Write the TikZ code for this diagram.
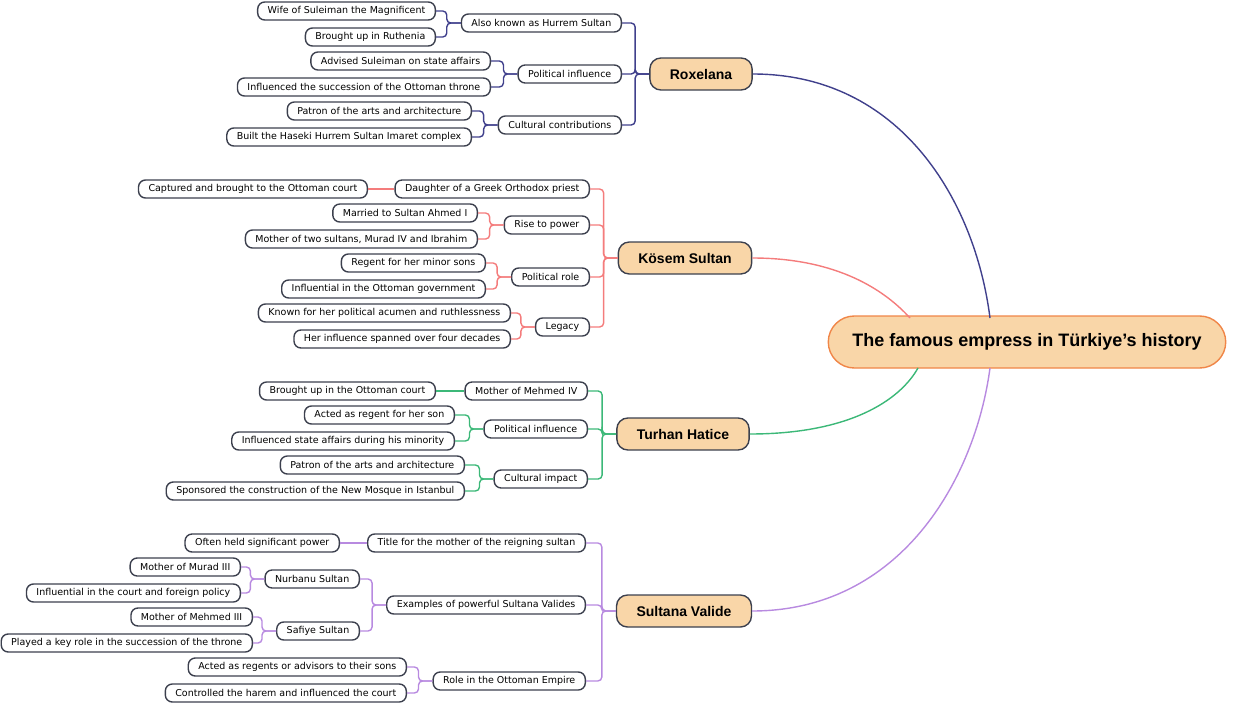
\documentclass[tikz,border=0pt]{standalone}
\usepackage{fontspec}
\setmainfont{Liberation Sans}
\newfontfamily\leaffont{DejaVu Sans}
\usepackage{tikz}
\usetikzlibrary{calc,positioning}
\definecolor{edgegray}{RGB}{60,64,78}
\definecolor{peach}{RGB}{249,214,168}
\definecolor{rootorange}{RGB}{240,134,72}
\definecolor{roxblue}{RGB}{64,64,140}
\definecolor{kosred}{RGB}{244,124,124}
\definecolor{turgreen}{RGB}{60,184,120}
\definecolor{valpurple}{RGB}{184,138,224}
\tikzset{
  leaf/.style={draw=edgegray,line width=1.4pt,fill=white,rounded corners=7pt,
    minimum height=18pt,inner xsep=10pt,inner ysep=0pt,font=\leaffont\fontsize{9.5}{10}\selectfont,anchor=east},
  topic/.style={draw=edgegray,line width=1.4pt,fill=peach,rounded corners=11pt,
    minimum height=32pt,inner xsep=20pt,font=\fontsize{14}{15}\bfseries\selectfont},
  root/.style={draw=rootorange,line width=1.4pt,fill=peach,rounded corners=26pt,
    minimum height=52pt,inner xsep=24pt,font=\fontsize{18}{19}\bfseries\selectfont},
  elbow/.style={line width=1.4pt,rounded corners=4pt},
  branch/.style={line width=1.4pt}
}
\newcommand{\elb}[3]{\draw[elbow,#1] (#2.west) -- ++(-14,0) |- (#3.east);}
\begin{document}
\begin{tikzpicture}[x=1pt,y=-1pt]
\useasboundingbox (0,0) rectangle (1240,704);
% centre
\node[root] (root) at (1027,342) {The famous empress in Türkiye's history};
% Roxelana
\node[topic] (rox) at (701,74) {Roxelana};
\node[leaf] (rox1) at (622,23) {Also known as Hurrem Sultan};
\node[leaf] (rox11) at (436,11) {Wife of Suleiman the Magnificent};
\node[leaf] (rox12) at (436,37) {Brought up in Ruthenia};
\node[leaf] (rox2) at (622,74) {Political influence};
\node[leaf] (rox21) at (491,61) {Advised Suleiman on state affairs};
\node[leaf] (rox22) at (491,87) {Influenced the succession of the Ottoman throne};
\node[leaf] (rox3) at (622,125) {Cultural contributions};
\node[leaf] (rox31) at (472,111) {Patron of the arts and architecture};
\node[leaf] (rox32) at (472,137) {Built the Haseki Hurrem Sultan Imaret complex};
% Kosem
\node[topic] (kos) at (685,258) {Kösem Sultan};
\node[leaf] (kos1) at (590,189) {Daughter of a Greek Orthodox priest};
\node[leaf] (kos11) at (368,189) {Captured and brought to the Ottoman court};
\node[leaf] (kos2) at (590,225) {Rise to power};
\node[leaf] (kos21) at (478,213) {Married to Sultan Ahmed I};
\node[leaf] (kos22) at (478,239) {Mother of two sultans, Murad IV and Ibrahim};
\node[leaf] (kos3) at (590,277) {Political role};
\node[leaf] (kos31) at (486,263) {Regent for her minor sons};
\node[leaf] (kos32) at (486,289) {Influential in the Ottoman government};
\node[leaf] (kos4) at (590,327) {Legacy};
\node[leaf] (kos41) at (511,313) {Known for her political acumen and ruthlessness};
\node[leaf] (kos42) at (511,339) {Her influence spanned over four decades};
% Turhan
\node[topic] (tur) at (683,434) {Turhan Hatice};
\node[leaf] (tur1) at (588,391) {Mother of Mehmed IV};
\node[leaf] (tur11) at (436,391) {Brought up in the Ottoman court};
\node[leaf] (tur2) at (588,429) {Political influence};
\node[leaf] (tur21) at (455,415) {Acted as regent for her son};
\node[leaf] (tur22) at (455,441) {Influenced state affairs during his minority};
\node[leaf] (tur3) at (588,479) {Cultural impact};
\node[leaf] (tur31) at (465,465) {Patron of the arts and architecture};
\node[leaf] (tur32) at (465,491) {Sponsored the construction of the New Mosque in Istanbul};
% Sultana Valide
\node[topic] (val) at (684,611) {Sultana Valide};
\node[leaf] (val1) at (586,543) {Title for the mother of the reigning sultan};
\node[leaf] (val11) at (340,543) {Often held significant power};
\node[leaf] (val2) at (586,605) {Examples of powerful Sultana Valides};
\node[leaf] (val21) at (360,579) {Nurbanu Sultan};
\node[leaf] (val211) at (241,567) {Mother of Murad III};
\node[leaf] (val212) at (241,593) {Influential in the court and foreign policy};
\node[leaf] (val22) at (360,631) {Safiye Sultan};
\node[leaf] (val221) at (253,617) {Mother of Mehmed III};
\node[leaf] (val222) at (253,643) {Played a key role in the succession of the throne};
\node[leaf] (val3) at (586,681) {Role in the Ottoman Empire};
\node[leaf] (val31) at (407,667) {Acted as regents or advisors to their sons};
\node[leaf] (val32) at (407,693) {Controlled the harem and influenced the court};
% branches to the centre
\draw[branch,roxblue] (rox.east) .. controls (900,74) and (975,200) .. (990,318);
\draw[branch,kosred] (kos.east) .. controls (830,258) and (880,285) .. (910,318);
\draw[branch,turgreen] (tur.east) .. controls (850,434) and (900,400) .. (918,368);
\draw[branch,valpurple] (val.east) .. controls (900,611) and (975,480) .. (990,368);
% elbows
\foreach \c in {rox1,rox2,rox3} {\elb{roxblue}{rox}{\c}}
\foreach \c in {rox11,rox12} {\elb{roxblue}{rox1}{\c}}
\foreach \c in {rox21,rox22} {\elb{roxblue}{rox2}{\c}}
\foreach \c in {rox31,rox32} {\elb{roxblue}{rox3}{\c}}
\foreach \c in {kos1,kos2,kos3,kos4} {\elb{kosred}{kos}{\c}}
\draw[branch,kosred] (kos1.west) -- (kos11.east);
\foreach \c in {kos21,kos22} {\elb{kosred}{kos2}{\c}}
\foreach \c in {kos31,kos32} {\elb{kosred}{kos3}{\c}}
\foreach \c in {kos41,kos42} {\elb{kosred}{kos4}{\c}}
\foreach \c in {tur1,tur2,tur3} {\elb{turgreen}{tur}{\c}}
\draw[branch,turgreen] (tur1.west) -- (tur11.east);
\foreach \c in {tur21,tur22} {\elb{turgreen}{tur2}{\c}}
\foreach \c in {tur31,tur32} {\elb{turgreen}{tur3}{\c}}
\foreach \c in {val1,val2,val3} {\elb{valpurple}{val}{\c}}
\draw[branch,valpurple] (val1.west) -- (val11.east);
\foreach \c in {val21,val22} {\elb{valpurple}{val2}{\c}}
\foreach \c in {val211,val212} {\elb{valpurple}{val21}{\c}}
\foreach \c in {val221,val222} {\elb{valpurple}{val22}{\c}}
\foreach \c in {val31,val32} {\elb{valpurple}{val3}{\c}}
\end{tikzpicture}
\end{document}
